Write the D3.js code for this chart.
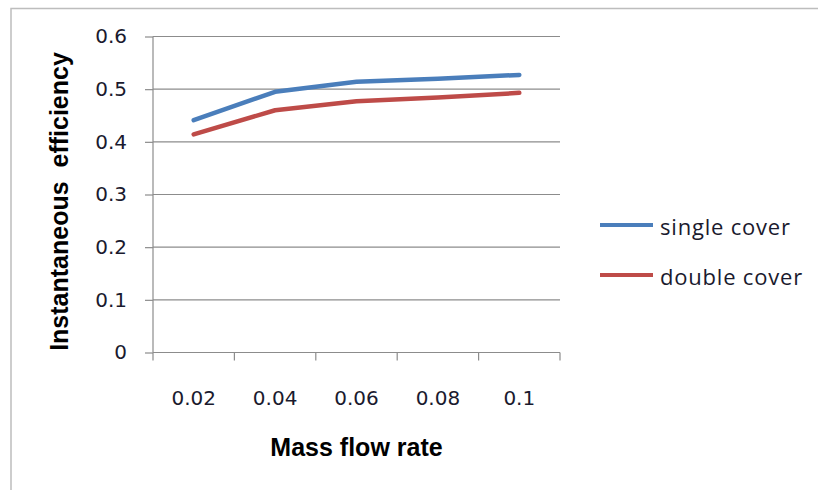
<!DOCTYPE html>
<html><head><meta charset="utf-8">
<script src="https://cdn.jsdelivr.net/npm/d3@7/dist/d3.min.js"></script>
<style>body{margin:0;background:#fff}svg{display:block}</style>
</head><body>
<svg id="c" width="818" height="490"></svg>
<script>
const categories = ["0.02","0.04","0.06","0.08","0.1"];
const singleCover = [0.441,0.495,0.514,0.520,0.527];
const doubleCover = [0.414,0.460,0.477,0.484,0.493];
const yTicks = [0,0.1,0.2,0.3,0.4,0.5,0.6];
const seriesNames = ["single cover","double cover"];
const seriesColors = ["#4A7EBB","#BE4B48"];

const svg = d3.select("#c");
const L=153, R=560, T=36.5, B=352.5;
const x = d3.scaleBand().domain(categories).range([L,R]);
const y = d3.scaleLinear().domain([0,0.6]).range([B,T]);
const tickFont = "DejaVu Sans, Verdana, sans-serif";
const textCol = "#1a1a2e";

// outer border (top and left visible)
svg.append("path").attr("d","M11,490 L11,8.5 L818,8.5").attr("fill","none").attr("stroke","#BDBDBD").attr("stroke-width",1.5);

// gridlines
svg.append("g").selectAll("line").data(yTicks.filter(d=>d>0)).join("line")
  .attr("x1",L).attr("x2",R).attr("y1",d=>y(d)).attr("y2",d=>y(d))
  .attr("stroke","#8C8C8C").attr("stroke-width",1.2);

// y axis
const ya = svg.append("g").attr("transform",`translate(${L},0)`)
  .call(d3.axisLeft(y).tickValues(yTicks).tickSize(8).tickPadding(18).tickFormat(d=>d===0?"0":d3.format(".1f")(d)));
ya.select(".domain").attr("stroke","#8C8C8C").attr("stroke-width",1.2).attr("d",`M0,${T}V${B}`);
ya.selectAll(".tick line").attr("stroke","#8C8C8C").attr("stroke-width",1.2);
ya.selectAll("text").attr("font-family",tickFont).attr("font-size",20).attr("fill",textCol);

// x axis
const xa = svg.append("g").attr("transform",`translate(0,${B})`)
  .call(d3.axisBottom(x).tickSize(0));
xa.select(".domain").attr("stroke","#8C8C8C").attr("stroke-width",1.2).attr("d",`M${L},0H${R}`);
xa.selectAll("text").attr("y",52).attr("dy",0).attr("font-family",tickFont).attr("font-size",20).attr("fill",textCol);
const bounds = [L].concat(categories.map(c=>x(c)+x.bandwidth()));
xa.selectAll(".bt").data(bounds).join("line").attr("class","bt")
  .attr("x1",d=>d).attr("x2",d=>d).attr("y1",0).attr("y2",8)
  .attr("stroke","#8C8C8C").attr("stroke-width",1.2);

// lines
const line = d3.line().x((d,i)=>x(categories[i])+x.bandwidth()/2).y(d=>y(d));
[singleCover,doubleCover].forEach((s,i)=>{
  svg.append("path").datum(s).attr("d",line).attr("fill","none")
    .attr("stroke",seriesColors[i]).attr("stroke-width",4.5).attr("stroke-linecap","round").attr("stroke-linejoin","round");
});

// axis titles
svg.append("text").attr("x",356.5).attr("y",456).attr("text-anchor","middle")
  .attr("font-family","Liberation Sans, Arial, sans-serif").attr("font-weight","bold").attr("font-size",25)
  .attr("fill","#000").text("Mass flow rate");
svg.append("text").attr("transform","translate(68,201.5) rotate(-90)").attr("text-anchor","middle")
  .attr("font-family","Liberation Sans, Arial, sans-serif").attr("font-weight","bold").attr("font-size",25)
  .attr("fill","#000").attr("xml:space","preserve").text("Instantaneous  efficiency");

// legend
const lg = svg.append("g");
seriesNames.forEach((n,i)=>{
  const yy = 225 + i*50;
  lg.append("line").attr("x1",600).attr("x2",653).attr("y1",yy).attr("y2",yy)
    .attr("stroke",seriesColors[i]).attr("stroke-width",4);
  lg.append("text").attr("x",660).attr("y",yy+10).attr("font-family","Open Sans, sans-serif")
    .attr("font-size",22).attr("letter-spacing",0.8).attr("fill",textCol).text(n);
});
</script>
</body></html>
